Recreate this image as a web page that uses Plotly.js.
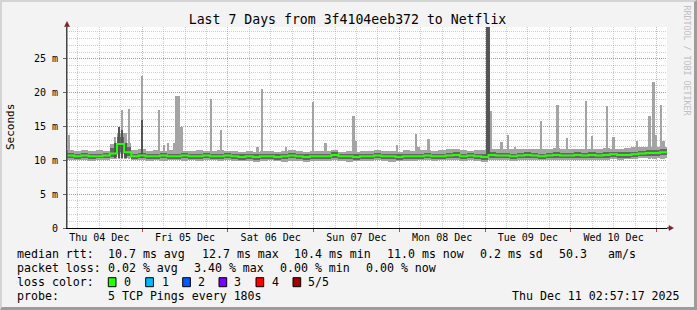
<!DOCTYPE html>
<html><head><meta charset="utf-8">
<script src="https://cdn.plot.ly/plotly-3.0.1.min.js"></script>
<style>
html,body{margin:0;padding:0;background:#f3f3f3;}
#wrap{position:relative;width:697px;height:310px;}
#chart{width:697px;height:310px;}
#frame{position:absolute;left:0;top:0;width:697px;height:310px;box-sizing:border-box;border-top:2px solid #d4d4d4;border-left:2px solid #d4d4d4;border-right:3px solid #9c9c9c;border-bottom:3px solid #9c9c9c;pointer-events:none;}
</style>
</head><body><div id="wrap"><div id="chart"></div><div id="frame"></div></div>
<script>
// ---------- data (ms) ----------
const rangeStart = '2025-12-04 02:57:17';
const rangeEnd   = '2025-12-11 02:57:17';

// 2-hour bins, 12 per day
const median = [
10.7,10.6,10.7,10.6,10.6,10.7,11.0,12.4,11.2,10.6,10.7,10.6,
10.6,10.7,10.6,10.6,10.7,10.6,10.6,10.7,10.6,10.6,10.7,10.6,
10.5,10.6,10.5,10.6,10.6,10.5,10.6,10.7,10.6,10.5,10.6,10.6,
10.6,10.8,10.6,10.6,10.5,10.6,10.6,10.7,10.6,10.6,10.5,10.6,
10.6,10.6,10.7,10.6,10.6,10.7,10.8,10.6,10.7,10.6,10.5,10.8,
10.7,10.7,10.6,10.7,10.8,10.7,10.6,10.7,10.8,10.7,10.7,10.8,
10.7,10.8,10.7,10.8,10.9,10.8,10.8,10.9,11.0,11.1,11.1,11.2];
const smokeMax = [
11.5,11.4,11.5,11.4,11.5,11.4,12.4,14.0,12.5,11.5,11.6,11.4,
11.5,11.4,11.5,11.6,11.4,11.4,11.5,11.4,11.4,11.5,11.4,11.4,
11.3,11.4,11.3,11.4,11.4,11.3,11.4,11.5,11.4,11.3,11.4,11.4,
11.4,11.5,11.3,11.4,11.3,11.4,11.4,11.5,11.4,11.4,11.3,11.5,
11.4,11.5,11.5,11.4,11.5,11.6,11.6,11.5,11.4,11.5,11.5,11.7,
11.6,11.7,11.6,11.6,11.7,11.6,11.6,11.7,11.8,11.6,11.7,11.7,
11.6,11.7,11.7,11.8,11.7,11.7,11.8,11.9,11.9,12.0,11.9,12.0];
const smokeMin = [
10.0,10.0,10.1,9.9,10.0,10.1,10.2,10.9,10.3,10.0,10.0,9.9,
10.0,9.9,10.0,10.0,9.9,10.0,9.9,10.0,10.0,9.9,10.0,9.9,
9.9,9.9,9.8,9.9,10.0,9.9,9.8,9.9,9.9,9.8,9.9,9.9,
9.9,10.0,9.9,9.8,9.9,9.9,9.9,10.0,9.9,9.8,9.9,9.9,
9.9,10.0,10.0,9.9,10.0,10.0,10.1,9.9,10.0,9.9,9.8,10.1,
10.0,10.0,9.9,10.0,10.1,10.0,10.0,10.1,10.1,10.0,10.0,10.1,
10.0,10.1,10.1,10.1,10.2,10.1,10.2,10.2,10.3,10.3,10.3,10.4];
const smokeLo = [
10.3,10.2,10.3,10.2,10.3,10.3,10.5,11.2,10.6,10.2,10.3,10.2,
10.2,10.3,10.2,10.2,10.3,10.2,10.2,10.3,10.2,10.2,10.3,10.2,
10.1,10.2,10.1,10.2,10.2,10.1,10.2,10.3,10.2,10.1,10.2,10.2,
10.2,10.4,10.2,10.2,10.1,10.2,10.2,10.3,10.2,10.2,10.1,10.2,
10.2,10.2,10.3,10.2,10.2,10.3,10.4,10.2,10.3,10.2,10.1,10.4,
10.3,10.3,10.2,10.3,10.4,10.3,10.2,10.3,10.4,10.3,10.3,10.4,
10.3,10.4,10.3,10.4,10.5,10.4,10.4,10.5,10.6,10.7,10.7,10.8];
const smokeHi = [
11.1,11.0,11.1,11.0,11.0,11.1,11.8,13.4,11.9,11.0,11.1,11.0,
11.0,11.1,11.0,11.0,11.1,11.0,11.0,11.1,11.0,11.0,11.1,11.0,
10.9,11.0,10.9,11.0,11.0,10.9,11.0,11.1,11.0,10.9,11.0,11.0,
11.0,11.2,11.0,11.0,10.9,11.0,11.0,11.1,11.0,11.0,10.9,11.0,
11.0,11.0,11.1,11.0,11.0,11.1,11.2,11.0,11.1,11.0,11.0,11.2,
11.1,11.1,11.0,11.1,11.2,11.1,11.0,11.1,11.2,11.1,11.1,11.2,
11.1,11.2,11.1,11.2,11.3,11.2,11.2,11.3,11.4,11.5,11.5,11.6];
const lossCount = [
0,0,0,0,0,0,0,1,0,0,0,0, 0,0,0,0,0,0,0,0,0,0,0,0,
0,0,0,0,0,0,0,0,0,0,0,0, 0,0,0,0,0,0,0,0,0,0,0,0,
0,0,0,0,0,0,0,0,0,0,1,0, 0,0,0,0,0,0,0,0,0,0,0,0,
0,0,0,0,0,0,0,0,0,0,0,0];

// short-lived outliers
const spikeTimes = [
'2025-12-04 03:31','2025-12-04 16:23','2025-12-04 17:31','2025-12-04 18:21','2025-12-04 19:20',
'2025-12-04 20:19','2025-12-04 23:57','2025-12-05 04:43','2025-12-05 06:07','2025-12-05 07:14',
'2025-12-05 08:55','2025-12-05 09:28','2025-12-05 10:10','2025-12-05 11:01','2025-12-05 19:16',
'2025-12-05 22:04','2025-12-06 08:21','2025-12-06 09:33','2025-12-06 16:16','2025-12-06 23:50',
'2025-12-07 03:20','2025-12-07 11:14','2025-12-07 11:47','2025-12-07 23:21','2025-12-08 04:40',
'2025-12-08 05:22','2025-12-08 08:14','2025-12-09 00:33','2025-12-09 01:07','2025-12-09 01:40',
'2025-12-09 04:40','2025-12-09 06:26','2025-12-09 08:23','2025-12-09 15:40','2025-12-09 20:21',
'2025-12-09 22:57','2025-12-10 04:16','2025-12-10 05:57','2025-12-10 10:09','2025-12-10 11:55',
'2025-12-10 18:33','2025-12-10 22:07','2025-12-10 23:14','2025-12-10 23:52','2025-12-11 01:16',
'2025-12-11 01:55'];
const spikeTops = [
13.8,13.4,14.9,17.4,14.1,
17.6,22.4,17.5,12.3,12.5,
12.5,19.5,19.5,14.9,19.1,
14.5,11.9,20.6,12.0,18.6,
12.5,16.5,12.8,12.3,13.9,
12.0,13.1,31.0,31.0,17.25,
12.7,13.7,12.0,15.8,18.2,
13.3,18.7,13.6,18.0,13.4,
12.8,16.5,21.5,13.7,18.2,
12.8];
const spikeDarkTops = [
null,12.5,14.9,14.5,12.5,
null,16.0,null,null,null,
null,null,null,null,null,
null,null,null,null,null,
null,null,null,null,null,
null,null,31.0,31.0,null,
null,null,null,null,null,
null,null,null,null,null,
null,null,null,null,null,
null];

const yTickVals = [0,5,10,15,20,25];
const yTickText = ['0','5 m','10 m','15 m','20 m','25 m'];

const rttStats  = [['10.7','ms avg'],['12.7','ms max'],['10.4','ms min'],['11.0','ms now'],['0.2','ms sd']];
const rttAmps   = '50.3';
const lossStats = [['0.02','% avg'],['3.40','% max'],['0.00','% min'],['0.00','% now']];
const lossLabels = ['0','1','2','3','4','5/5'];
const lossColors = ['#26ff00','#00b8ff','#0059ff','#7e00ff','#ff0000','#a10000'];
const probeText = '5 TCP Pings every 180s';
const stampText = 'Thu Dec 11 02:57:17 2025';
const titleText = 'Last 7 Days from 3f4104eeb372 to Netflix';

// ---------- build ----------
const MONO = '"DejaVu Sans Mono","Liberation Mono",monospace';
const LIGHT = '#a4a4a4', DARK = '#666666', DARK2 = '#555555';
const BIN_MS = 2*3600*1000, SPIKE_W = 45*60*1000;
const START_MS = Date.UTC(2025,11,4,2,57,17);
const END_MS = START_MS + median.length*BIN_MS;
const binCenters = median.map((_,i)=>START_MS+(i+0.5)*BIN_MS);
const binStarts = median.map((_,i)=>START_MS+i*BIN_MS);

const SPIKE_BASE = 10.2, DARK_BASE = 10.4;
const darkIdx = spikeDarkTops.map((v,i)=>v==null?-1:i).filter(i=>i>=0);
const lossIdx = lossCount.map((v,i)=>v>0?i:-1).filter(i=>i>=0);

const traces = [
 {type:'bar', x:spikeTimes, base:spikeTops.map(()=>SPIKE_BASE), y:spikeTops.map(v=>v-SPIKE_BASE),
  width:SPIKE_W, marker:{color:LIGHT,line:{width:0}}, hoverinfo:'skip'},
 {type:'bar', x:binCenters, base:smokeMin, y:smokeMax.map((v,i)=>v-smokeMin[i]),
  width:BIN_MS, marker:{color:LIGHT,line:{width:0}}, hoverinfo:'skip'},
 {type:'bar', x:binCenters, base:smokeLo, y:smokeHi.map((v,i)=>v-smokeLo[i]),
  width:BIN_MS, marker:{color:DARK,line:{width:0}}, hoverinfo:'skip'},
 {type:'bar', x:darkIdx.map(i=>spikeTimes[i]), base:darkIdx.map(()=>DARK_BASE),
  y:darkIdx.map(i=>spikeDarkTops[i]-DARK_BASE), width:SPIKE_W,
  marker:{color:DARK2,line:{width:0}}, hoverinfo:'skip'},
 {type:'scatter', mode:'lines', x:binStarts.concat([END_MS]), y:median.concat([median[median.length-1]]),
  line:{color:lossColors[0],width:2,shape:'hv'}, hoverinfo:'skip'},
 {type:'bar', x:lossIdx.map(i=>binCenters[i]), base:lossIdx.map(i=>median[i]-0.15),
  y:lossIdx.map(()=>0.3), width:SPIKE_W,
  marker:{color:lossIdx.map(i=>lossColors[lossCount[i]]),line:{width:0}}, hoverinfo:'skip'}
];

// layout helpers (pixel -> paper)
const L=67, T=27, W=600, H=201;
const px = x=>(x-L)/W, py = y=>(T+H-y)/H;
function txt(text,x,y,o){
  return Object.assign({text:text,x:px(x),y:py(y),xref:'paper',yref:'paper',xanchor:'left',yanchor:'middle',
    showarrow:false,borderpad:0,font:{family:MONO,size:11.6,color:'#000'}},o||{});
}
const ann = [];
ann.push(txt('median rtt:',16,254.3));
const rttX=[107.3,200.7,293.3,386,479.3];
rttStats.forEach((s,i)=>ann.push(txt(s[0]+'\u00a0'+s[1],rttX[i],254.3)));
ann.push(txt(rttAmps,558.3,254.3));
ann.push(txt('am/s',607.3,254.3));
ann.push(txt('packet loss:',16,268.3));
const lossX=[107.3,193.3,279.3,365];
lossStats.forEach((s,i)=>ann.push(txt(s[0]+'\u00a0'+s[1],lossX[i],268.3)));
ann.push(txt('loss color:',16,282.3));
const boxX=[108.3,145.7,182.7,219,256,293], labX=[123.3,161,196.7,233.3,270.7,307.3];
lossLabels.forEach((s,i)=>ann.push(txt(s,labX[i],282.3)));
ann.push(txt('probe:',16,296));
ann.push(txt(probeText,107.3,296));
ann.push(txt(stampText,680.5,296,{xanchor:'right'}));
ann.push(txt('Seconds',11,127,{xanchor:'center',textangle:-90,font:{family:MONO,size:11,color:'#000'}}));
ann.push(txt('RRDTOOL / TOBI OETIKER',686.5,60,{xanchor:'center',textangle:90,font:{family:MONO,size:8.3,color:'#c0c0c0'}}));

const shapes = [];
boxX.forEach((x,i)=>shapes.push({type:'rect',xref:'paper',yref:'paper',x0:px(x),x1:px(x+7.7),y0:py(286.7),y1:py(277.7),
  fillcolor:lossColors[i],line:{color:'#000',width:1}}));
const ARROW='#7f1f1f';
shapes.push({type:'line',xref:'paper',yref:'paper',x0:px(67),x1:px(67),y0:py(228),y1:py(25),line:{color:'#444',width:1}});
shapes.push({type:'path',xref:'paper',yref:'paper',path:`M ${px(67)} ${py(21.5)} L ${px(64.5)} ${py(26.5)} L ${px(69.5)} ${py(26.5)} Z`,fillcolor:ARROW,line:{color:ARROW,width:0.5}});
shapes.push({type:'line',xref:'paper',yref:'paper',x0:px(667),x1:px(670),y0:py(228),y1:py(228),line:{color:'#000',width:1}});
shapes.push({type:'path',xref:'paper',yref:'paper',path:`M ${px(673.5)} ${py(228)} L ${px(669)} ${py(225.5)} L ${px(669)} ${py(230.5)} Z`,fillcolor:ARROW,line:{color:ARROW,width:0.5}});

const MGRID='rgba(235,70,70,0.5)', GRID='rgba(150,150,150,0.45)';
const layout = {
  width:697, height:310, margin:{l:L,r:697-L-W,t:T,b:310-T-H,pad:0},
  paper_bgcolor:'#f3f3f3', plot_bgcolor:'#ffffff', showlegend:false,
  barmode:'overlay', bargap:0, hovermode:false, dragmode:false,
  title:{text:titleText,font:{family:MONO,size:13.2,color:'#000'},x:347.5/697,xanchor:'center',y:1-19/310,yanchor:'middle'},
  xaxis:{type:'date',range:[rangeStart,rangeEnd],tick0:'2025-12-04',dtick:86400000,ticklabelmode:'period',
    tickformat:'%a %d %b',ticks:'outside',ticklen:3,tickcolor:'#d04040',ticklabelstandoff:-3,
    showgrid:true,gridcolor:MGRID,griddash:'1px,1px',gridwidth:1,
    minor:{dtick:6*3600000,tick0:'2025-12-04',showgrid:true,gridcolor:GRID,griddash:'1px,1px',gridwidth:1},
    showline:true,linecolor:'#000',linewidth:1,zeroline:false,fixedrange:true,
    tickfont:{family:MONO,size:10,color:'#000'}},
  yaxis:{range:[0,29.7],tickvals:yTickVals,ticktext:yTickText,ticks:'outside',ticklen:3,tickcolor:'#666',
    showgrid:true,gridcolor:MGRID,griddash:'1px,1px',gridwidth:1,
    minor:{dtick:1,showgrid:true,gridcolor:GRID,griddash:'1px,1px',gridwidth:1},
    showline:true,linecolor:'#444',linewidth:1,zeroline:false,fixedrange:true,ticklabelstandoff:3,
    tickfont:{family:MONO,size:10,color:'#000'}},
  annotations:ann, shapes:shapes
};
Plotly.newPlot('chart',traces,layout,{displayModeBar:false});
</script></body></html>
